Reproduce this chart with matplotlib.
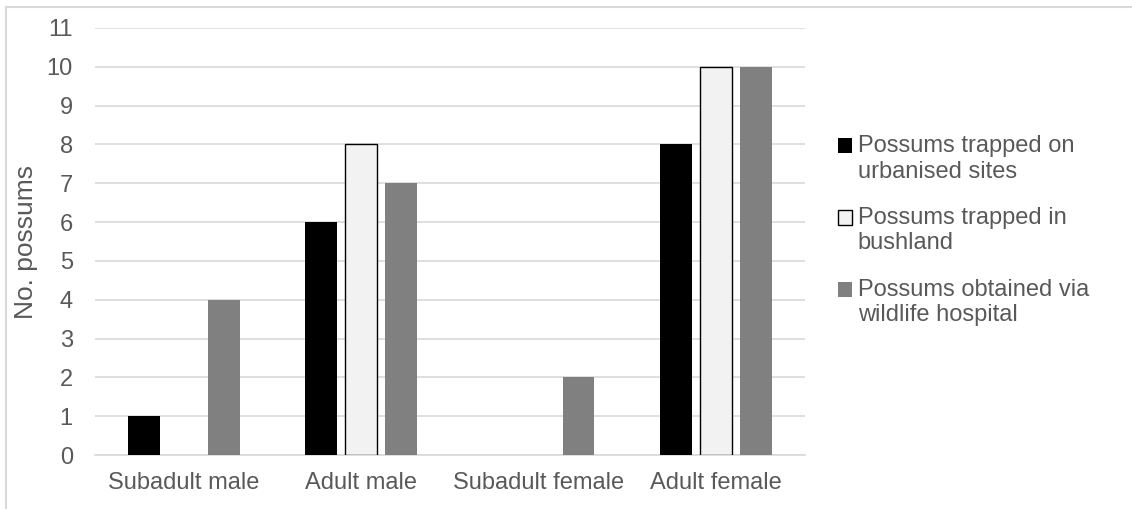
import numpy as np
import matplotlib.pyplot as plt
from matplotlib.lines import Line2D
from matplotlib.patches import Rectangle
from matplotlib.legend_handler import HandlerPatch

categories = ['Subadult male', 'Adult male', 'Subadult female', 'Adult female']
urban = [1, 6, 0, 8]
bush = [0, 8, 0, 10]
hospital = [4, 7, 2, 10]
labels = ['Possums trapped on\nurbanised sites',
          'Possums trapped in\nbushland',
          'Possums obtained via\nwildlife hospital']

plt.rcParams['font.family'] = ['Liberation Sans', 'DejaVu Sans']
txt = '#595959'
fs = 17

fig = plt.figure(figsize=(11.32, 5.09), dpi=100)
ax = fig.add_axes([0.0839, 0.106, 0.627, 0.839])

x = np.arange(len(categories))
w = 0.18
off = 0.225
b1 = ax.bar(x - off, urban, w, color='black', zorder=3)
b2 = ax.bar(x, [v if v > 0 else np.nan for v in bush], w, color='#f2f2f2',
            edgecolor='black', linewidth=1, zorder=3)
b3 = ax.bar(x + off, hospital, w, color='#808080', zorder=3)

ax.set_xlim(-0.5, 3.5)
ax.set_ylim(0, 11)
ax.set_yticks(range(0, 12))
ax.yaxis.grid(True, color='#d9d9d9', linewidth=1.2, zorder=0)
ax.set_xticks(x)
ax.set_xticklabels(categories)
ax.tick_params(axis='both', length=0, labelsize=fs, colors=txt)
ax.tick_params(axis='x', pad=12.5)
ax.tick_params(axis='y', pad=16)
for s in ['top', 'right', 'left']:
    ax.spines[s].set_visible(False)
ax.spines['bottom'].set_color('#d9d9d9')
ax.spines['bottom'].set_linewidth(1.2)
ax.set_ylabel('No. possums', fontsize=19, color=txt, labelpad=6)


# legend square sits beside the first line of a two-line label
def top_square(legend, orig_handle, xdescent, ydescent, width, height, fontsize):
    return Rectangle((-xdescent, -ydescent + 9.5), width, height)


handles = [b1.patches[0], b2.patches[1], b3.patches[0]]
leg = fig.legend(handles, labels, loc='center left',
                 bbox_to_anchor=(0.740, 0.547), frameon=False, fontsize=fs,
                 handlelength=0.6, handleheight=0.6, handletextpad=0.25,
                 labelspacing=1.03, borderpad=0, borderaxespad=0,
                 handler_map={h: HandlerPatch(patch_func=top_square) for h in handles})
for t in leg.get_texts():
    t.set_color(txt)
    t.set_linespacing(1.2)

# outer chart border (top and left edges visible)
fig.add_artist(Line2D([0.0053, 1.0], [0.987, 0.987], color='#d9d9d9', lw=1.5))
fig.add_artist(Line2D([0.0053, 0.0053], [0.0, 0.987], color='#d9d9d9', lw=1.5))

fig.savefig('out.png', dpi=100)
